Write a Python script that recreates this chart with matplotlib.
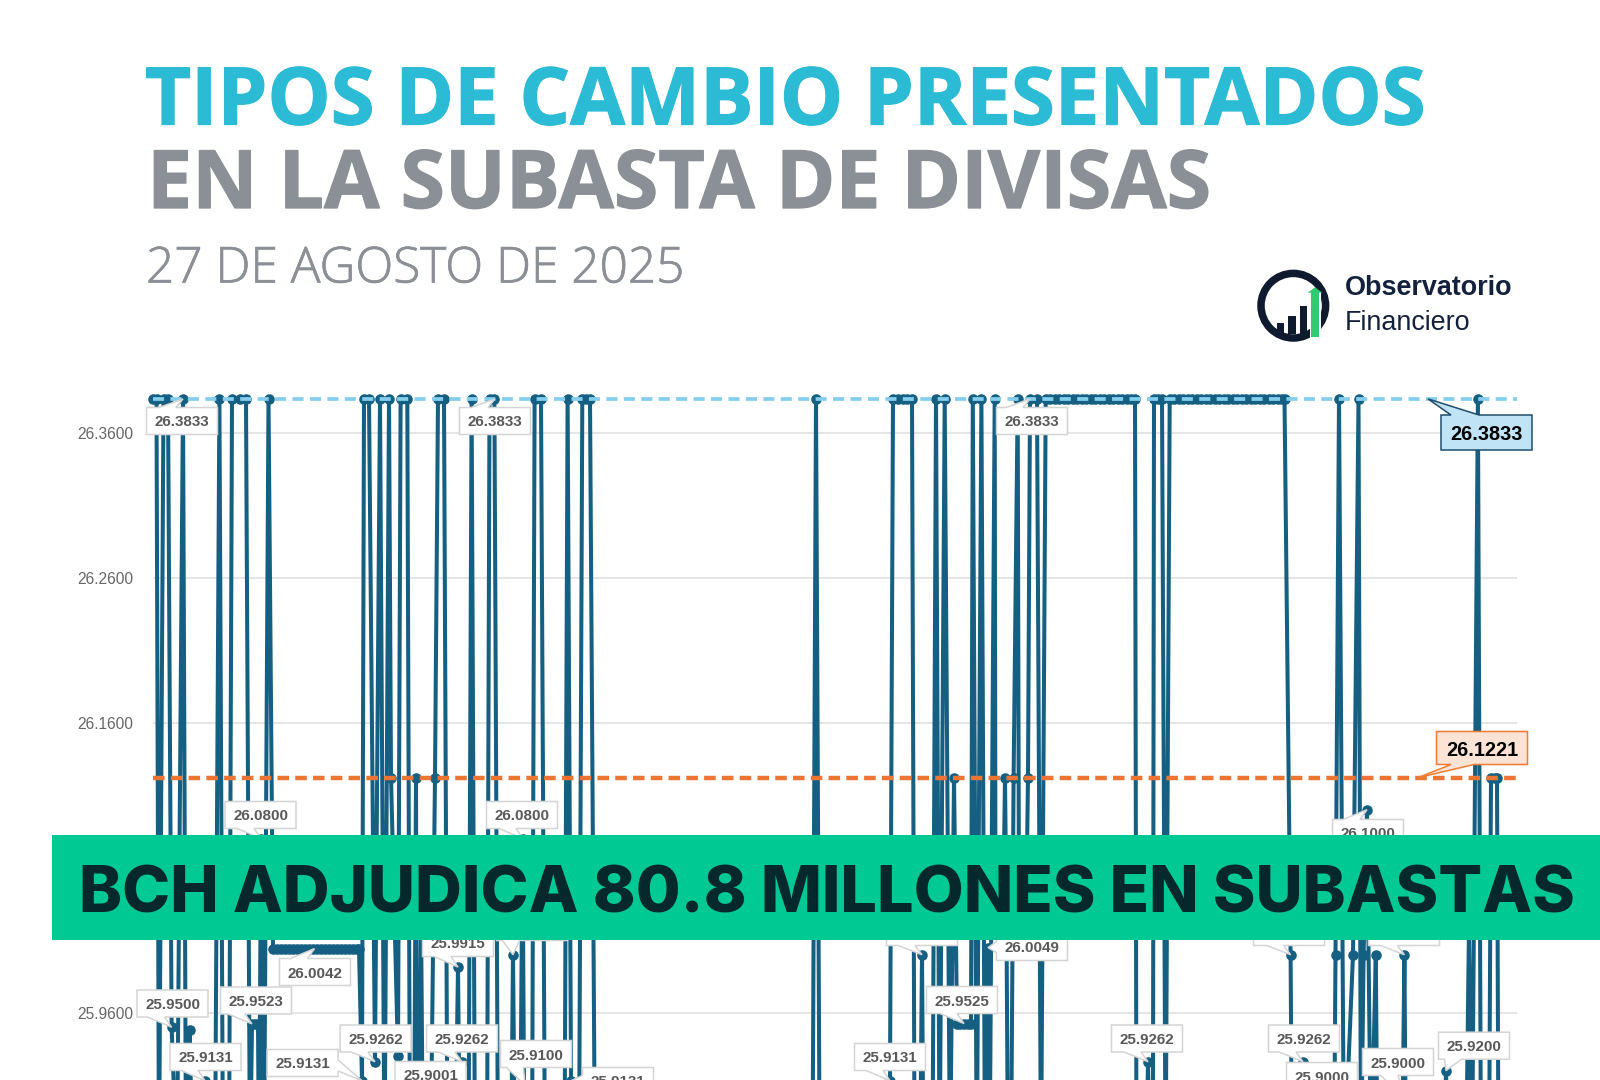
import matplotlib
matplotlib.use("Agg")
import matplotlib.pyplot as plt
import matplotlib.patheffects as pe
from matplotlib.patches import Polygon, Rectangle, Circle

# ---------- DATA ----------
hi = 26.3833
mid = 26.1221
plat = 26.0042
flr = 25.85   # bids that fall below the cropped lower edge

bid_a = [153, 156.5, 159, 163.5, 168, 171.6, 177, 183, 186, 189.5, 193, 205,
         215, 219.4, 223, 229, 232, 240, 246, 250, 252, 255, 258, 259, 261, 264, 268.5]
rate_a = [hi, hi, flr, hi, hi, 25.95, flr, hi, flr, 25.948, flr, 25.9131,
          flr, hi, flr, flr, hi, hi, hi, flr, 25.9523, 25.9523, 25.9523, flr, 26.08, flr, hi]

bid_b = [273, 277, 281, 285, 289, 293, 297, 301, 305, 309, 313, 317,
         321, 325, 329, 333, 337, 341, 345, 349, 353, 357, 359]
rate_b = [plat, plat, plat, plat, plat, plat, plat, plat, plat, plat, plat, plat,
          plat, plat, plat, plat, plat, plat, plat, plat, plat, plat, plat]

bid_c = [362, 364, 369, 375, 380, 384.5, 389, 391, 398, 400.6, 407.3, 410,
         414, 416, 417, 419, 421, 423, 429, 430.5, 435, 438, 444, 447.5,
         455, 458, 460, 462, 468.5, 471.6, 475, 487, 489.5, 494.4, 498, 511,
         513, 515, 520, 522.5, 524, 532, 534.6, 541, 545, 564.5, 567.6, 571,
         579, 582.3, 586, 590, 595, 812.5, 816, 819.7, 888]
rate_c = [25.9131, hi, hi, 25.9262, hi, flr, hi, mid, 25.93, hi, hi, flr,
          flr, mid, flr, flr, 26.03, flr, flr, flr, mid, hi, hi, flr,
          flr, 25.9915, flr, 25.9262, flr, hi, flr, flr, hi, hi, flr, flr,
          26.0, flr, flr, 26.08, 25.91, flr, hi, hi, flr, flr, hi, 25.9131,
          flr, hi, hi, hi, flr, flr, hi, flr, flr]

bid_d = [890, 893, 898, 903, 907, 912, 914.6, 920, 922, 923.5, 932.5, 936,
         939.6, 944.7, 950, 954, 957, 960, 964, 968, 971, 972.8, 976.8, 981.4,
         985, 988, 989.6, 994.7, 995.5, 1003, 1005, 1006.5, 1008, 1011, 1013.6, 1017.7, 1019, 1026, 1028, 1030, 1037,
         1041]
rate_d = [25.9131, hi, hi, hi, hi, hi, flr, flr, 26.0, flr, flr, hi,
          flr, hi, flr, mid, 25.9525, 25.9525, 25.9525, 25.9525, 25.9525, hi, flr, hi,
          flr, 26.0049, flr, hi, 26.02, 26.02, mid, 26.02, flr, flr, mid, hi, 26.02, 26.02, mid, hi, hi,
          flr]

bid_e = [1045.7, 1050, 1054.5, 1059, 1063.5, 1068, 1072.5, 1077, 1081.5, 1086, 1090.5, 1095,
         1099.5, 1104, 1108.5, 1113, 1117.5, 1122, 1126.5, 1131, 1135,
         1136.5, 1146, 1148, 1150, 1152.9, 1154, 1158, 1162, 1165.6]
rate_e = [hi, hi, hi, hi, hi, hi, hi, hi, hi, hi, hi, hi,
          hi, hi, hi, hi, hi, hi, hi, hi, hi,
          flr, flr, 25.9262, flr, flr, hi, hi, hi, flr]

bid_f = [1169.7, 1174, 1178.5, 1183, 1187.5, 1192, 1196.5, 1201, 1205.5, 1210, 1214.5, 1219,
         1223.5, 1228, 1232.5, 1237, 1241.5, 1246, 1250.5, 1255, 1259.5, 1264, 1268.5, 1273,
         1277.5, 1282, 1284.5]
rate_f = [hi, hi, hi, hi, hi, hi, hi, hi, hi, hi, hi, hi,
          hi, hi, hi, hi, hi, hi, hi, hi, hi, hi, hi, hi,
          hi, hi, hi]

bid_g = [1290.6, 1292, 1301, 1303, 1305, 1334, 1335.5, 1339, 1344, 1353, 1358.5, 1361,
         1363.6, 1367, 1371, 1375.8, 1377.5, 1402, 1404.4, 1406, 1444, 1446, 1449, 1466,
         1469, 1472, 1477.9, 1481, 1489, 1491, 1495, 1497, 1498.5]
rate_g = [26.0, flr, flr, 25.9262, flr, flr, 26.0, hi, flr, 26.0, hi, flr,
          26.0, 26.10, flr, 26.0, flr, flr, 26.0, flr, flr, 25.92, flr, flr,
          26.02, flr, hi, flr, flr, mid, mid, mid, flr]

y_ticks = [25.96, 26.16, 26.26, 26.36]

# callouts: text, anchor bid, anchor rate, box centre (px)
lab_text = ["26.3833", "26.3833", "26.3833", "26.0800", "26.0800", "26.1000",
            "25.9500", "25.9523", "26.0042", "25.9131", "25.9131", "25.9262",
            "25.9262", "25.9915", "25.9001", "25.9100", "25.9131", "",
            "25.9131", "25.9525", "26.0049", "", "25.9262", "25.9262",
            "25.9000", "25.9000", "25.9200", "", ""]
lab_bid = [183, 495, 1030, 261, 523, 1367,
           171.6, 252, 314.5, 205, 362, 375,
           462, 458, 432, 525, 571, 513,
           890, 964, 988, 922, 1148, 1303,
           1320, 1405, 1446, 1290.6, 1404.4]
lab_rate = [26.3833, 26.3833, 26.3833, 26.08, 26.08, 26.10,
            25.95, 25.9523, 26.0042, 25.9131, 25.9131, 25.9262,
            25.9262, 25.9915, 25.9001, 25.91, 25.9131, 26.0,
            25.9131, 25.9525, 26.0049, 26.0, 25.9262, 25.9262,
            25.90, 25.90, 25.92, 26.0, 26.0]
lab_cx = [182, 495, 1032, 260.5, 522, 1368,
          172.5, 256, 315, 205.5, 302.6, 375.6,
          462, 458, 430.5, 536, 618, 532,
          890, 962, 1032, 922, 1147, 1304,
          1322, 1398, 1474, 1289, 1404]
lab_cy = [421, 421, 421, 815, 815, 833,
          1003.5, 1000.5, 972, 1057, 1063, 1038.5,
          1038.5, 943, 1075, 1054, 1081, 927,
          1057, 1000, 947, 932, 1038.5, 1038.5,
          1076, 1062, 1045.7, 932, 932]

title_1 = "TIPOS DE CAMBIO PRESENTADOS"
title_2 = "EN LA SUBASTA DE DIVISAS"
subtitle = "27 DE AGOSTO DE 2025"
banner = "BCH ADJUDICA 80.8 MILLONES EN SUBASTAS"

# ---------- FIGURE ----------
W, H = 1600, 1080
fig = plt.figure(figsize=(W / 100, H / 100), dpi=100, facecolor="white")

top_px, bottom_px = 390, 1080
ax = fig.add_axes([153 / W, 0, 1364 / W, (bottom_px - top_px) / H])
ax.set_xlim(153, 1517)
ax.set_ylim(26.36 - (bottom_px - 432.7) / 1450, 26.36 + (432.7 - top_px) / 1450)
for s in ax.spines.values():
    s.set_visible(False)
ax.set_xticks([])
ax.set_yticks(y_ticks)
ax.set_yticklabels([f"{v:.4f}" for v in y_ticks], fontsize=11.2,
                   family="Liberation Sans", color="#666666")
ax.tick_params(axis="y", length=0, pad=14)
ax.grid(axis="y", color="#DEDEDE", lw=1.1)
ax.set_axisbelow(True)

bids = bid_a + bid_b + bid_c + bid_d + bid_e + bid_f + bid_g
rates = rate_a + rate_b + rate_c + rate_d + rate_e + rate_f + rate_g
ax.plot(bids, rates, color="#156082", lw=2.9, marker="o", ms=7.6, mew=0,
        clip_on=False, zorder=3, solid_joinstyle="round")

ax.plot([153, 1517], [hi, hi], color="#85CEEE", lw=2.7, dashes=(2.95, 1.7), zorder=4, clip_on=False)
ax.plot([153, 1517], [mid, mid], color="#ED7533", lw=3.2, dashes=(2.6, 1.4), zorder=4, clip_on=False)

# overlay in pixel space
ov = fig.add_axes([0, 0, 1, 1], zorder=5)
ov.set_xlim(0, W)
ov.set_ylim(H, 0)
ov.axis("off")
ov.patch.set_alpha(0)

def to_px(x, y):
    return ov.transData.inverted().transform(ax.transData.transform((x, y)))

def callout(text, tip, cx, cy, w, h, fc, ec, tc, size, lw, z=6, base_left=None, base_w=None):
    l, r, t, b = cx - w / 2, cx + w / 2, cy - h / 2, cy + h / 2
    tx, ty = tip
    dx, dy = tx - cx, ty - cy
    if base_left is None and abs(dx) / (w / 2) > abs(dy) / (h / 2):
        base = 11
        ex = r if dx > 0 else l
        ym = min(max(cy + dy * 0.2, t + base), b - base)
        tail = [(ex, ym - base / 2), (tx, ty), (ex, ym + base / 2)]
        if dx > 0:
            pts = [(l, t), (r, t), tail[0], tail[1], tail[2], (r, b), (l, b)]
        else:
            pts = [(l, t), (r, t), (r, b), (l, b), tail[2], tail[1], tail[0]]
    else:
        bw = base_w if base_w else 17
        xa = base_left if base_left is not None else max(l + 6, min(tx - bw - 7, r - bw))
        if dy > 0:
            pts = [(l, t), (r, t), (r, b), (xa + bw, b), (tx, ty), (xa, b), (l, b)]
        else:
            pts = [(l, t), (xa, t), (tx, ty), (xa + bw, t), (r, t), (r, b), (l, b)]
    ov.add_patch(Polygon(pts, closed=True, fc=fc, ec=ec, lw=lw, zorder=z, joinstyle="miter"))
    ov.text(cx, cy, text, ha="center", va="center_baseline", fontsize=size, family="Liberation Sans",
            weight="bold", color=tc, zorder=z + 1)

for t, b, r, cx, cy in zip(lab_text, lab_bid, lab_rate, lab_cx, lab_cy):
    callout(t, to_px(b, r), cx, cy, 71, 27, "white", "#D4D4D4", "#595959", 10.9, 1.1)

callout("26.3833", to_px(1428, hi), 1486.5, 432.5, 91, 35, "#C0E4F5", "#1F4E6B", "black", 14.3, 1.1,
        base_left=1451, base_w=28)
callout("26.1221", to_px(1418, mid), 1482, 748, 91, 33, "#FBE3D6", "#ED7D31", "black", 14.3, 1.1,
        base_left=1451, base_w=23)

# banner
ov.add_patch(Rectangle((52, 835), W - 52, 105, fc="#00C994", ec="none", zorder=10))
ov.text(79, 889, banner, fontsize=46.7, family="Inter", weight=800, color="#04282B",
        ha="left", va="center_baseline", zorder=11)

# headings
heavy = [pe.withStroke(linewidth=0.9, foreground="#2CBBD4")]
heavy2 = [pe.withStroke(linewidth=0.9, foreground="#8A9095")]
heavy3 = [pe.withStroke(linewidth=0.5, foreground="#8A9095")]
ov.text(145, 124.5, title_1, fontsize=57.3, family="Open Sans", weight="bold", color="#2CBBD4",
        ha="left", va="baseline", path_effects=heavy)
ov.text(147, 208, title_2, fontsize=58, family="Open Sans", weight="bold", color="#8A9095",
        ha="left", va="baseline", path_effects=heavy2)
ov.text(146, 282.5, subtitle, fontsize=35.7, family="Open Sans", weight="light", color="#8A9095",
        ha="left", va="baseline", path_effects=heavy3)

# logo
navy = "#0F1A2E"
ov.add_patch(Circle((1293.3, 305.7), 32.3, fc="none", ec=navy, lw=5.4))
for l, r, t in ((1276.7, 1284, 323.3), (1288, 1295.7, 315.7), (1300, 1307.3, 305.7)):
    ov.add_patch(Rectangle((l, t), r - l, 334 - t, fc=navy, ec="none"))
ov.add_patch(Rectangle((1309.5, 292), 11, 46, fc="white", ec="none", zorder=3))
ov.add_patch(Polygon([(1311, 337), (1311, 292.7), (1307.7, 292.7), (1315, 287.3),
                      (1322.3, 292.7), (1319, 292.7), (1319, 337)], closed=True,
                     fc="#2ECC71", ec="none", zorder=4))
ov.text(1345, 295, "Observatorio", fontsize=19.4, family="Liberation Sans", weight="bold",
        color="#14213D", ha="left", va="baseline")
ov.text(1345, 329.5, "Financiero", fontsize=19.4, family="Liberation Sans",
        color="#14213D", ha="left", va="baseline")

fig.savefig("out.png", dpi=100, facecolor="white")
